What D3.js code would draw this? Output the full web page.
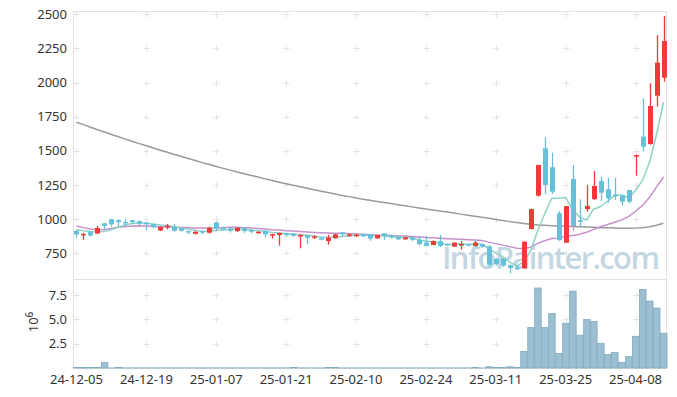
<!DOCTYPE html>
<html>
<head>
<meta charset="utf-8">
<script src="https://cdn.jsdelivr.net/npm/d3@7"></script>
<style>
  body { margin: 0; background: #fff; }
  text { font-family: "Noto Sans", sans-serif; }
</style>
</head>
<body>
<div id="chart"></div>
<script>
// trading days
var dates = [
  "24-12-05","24-12-06","24-12-09","24-12-10","24-12-11","24-12-12","24-12-13","24-12-16","24-12-17","24-12-18",
  "24-12-19","24-12-20","24-12-23","24-12-24","24-12-26","24-12-27","24-12-30","25-01-02","25-01-03","25-01-06",
  "25-01-07","25-01-08","25-01-09","25-01-10","25-01-13","25-01-14","25-01-15","25-01-16","25-01-17","25-01-20",
  "25-01-21","25-01-22","25-01-23","25-01-24","25-01-31","25-02-03","25-02-04","25-02-05","25-02-06","25-02-07",
  "25-02-10","25-02-11","25-02-12","25-02-13","25-02-14","25-02-17","25-02-18","25-02-19","25-02-20","25-02-21",
  "25-02-24","25-02-25","25-02-26","25-02-27","25-02-28","25-03-04","25-03-05","25-03-06","25-03-07","25-03-10",
  "25-03-11","25-03-12","25-03-13","25-03-14","25-03-17","25-03-18","25-03-19","25-03-20","25-03-21","25-03-24",
  "25-03-25","25-03-26","25-03-27","25-03-28","25-03-31","25-04-01","25-04-02","25-04-03","25-04-04","25-04-07",
  "25-04-08","25-04-09","25-04-10","25-04-11","25-04-14"
];

var opens = [
  915, 886, 908, 895, 970, 1000, 993, 980, 993, 985,
  974, 964, 917, 940, 945, 933, 913, 893, 913, 901,
  977, 940, 933, 913, 937, 920, 901, 915, 884, 884,
  899, 896, 880, 884, 867, 864, 840, 860, 904, 884,
  880, 889, 891, 860, 896, 884, 872, 852, 867, 848,
  828, 811, 840, 818, 799, 811, 818, 804, 818, 800,
  710, 712, 664, 645, 640, 928, 1172, 1519, 1380, 1043,
  828, 1294, 994, 1074, 1147, 1279, 1218, 1180, 1172, 1213,
  1458, 1604, 1550, 1904, 2036
];
var highs = [
  920, 900, 910, 950, 972, 1002, 1000, 999, 995, 990,
  978, 966, 945, 966, 966, 935, 915, 912, 915, 945,
  981, 946, 935, 937, 939, 922, 910, 917, 893, 901,
  901, 898, 889, 886, 881, 866, 884, 891, 906, 893,
  896, 891, 893, 886, 899, 886, 874, 872, 869, 877,
  879, 845, 884, 822, 832, 840, 822, 840, 822, 811,
  715, 716, 669, 660, 838, 1078, 1397, 1600, 1487, 1060,
  1096, 1397, 1145, 1250, 1353, 1311, 1303, 1303, 1175, 1215,
  1472, 1885, 1995, 2348, 2487
];
var lows = [
  864, 847, 872, 890, 920, 945, 945, 945, 964, 955,
  920, 935, 912, 925, 908, 910, 890, 888, 890, 895,
  913, 920, 903, 905, 899, 896, 893, 864, 859, 806,
  870, 870, 787, 816, 855, 845, 813, 858, 874, 870,
  870, 870, 842, 855, 848, 860, 848, 850, 840, 808,
  799, 808, 795, 805, 796, 777, 800, 799, 790, 650,
  660, 652, 604, 628, 636, 925, 1165, 1184, 1184, 840,
  826, 915, 945, 1055, 1140, 1133, 1120, 1140, 1100, 1115,
  1318, 1494, 1545, 1823, 2007
];
var closes = [
  888, 892, 880, 935, 950, 962, 978, 975, 978, 968,
  962, 940, 943, 952, 915, 915, 904, 908, 901, 937,
  933, 926, 915, 937, 913, 908, 908, 889, 891, 899,
  884, 879, 884, 864, 874, 850, 864, 889, 889, 889,
  886, 874, 857, 884, 877, 867, 852, 867, 848, 818,
  804, 840, 804, 809, 828, 818, 809, 828, 799, 665,
  670, 660, 642, 638, 835, 1074, 1397, 1250, 1201, 847,
  1096, 950, 981, 1096, 1243, 1194, 1153, 1170, 1128, 1128,
  1470, 1530, 1828, 2146, 2304
];

// moving averages (5, 20, 120 day)
var ma5 = [
  922, 915, 910, 908, 909, 924, 941, 960, 969, 972,
  972, 965, 958, 953, 942, 933, 926, 919, 909, 913,
  917, 921, 922, 930, 925, 920, 916, 911, 902, 899,
  894, 888, 887, 882, 877, 870, 867, 868, 873, 876,
  883, 885, 879, 878, 876, 872, 867, 869, 862, 850,
  838, 835, 823, 815, 817, 820, 814, 818, 816, 784,
  754, 724, 687, 655, 689, 770, 917, 1039, 1151, 1154,
  1158, 1069, 1015, 994, 1073, 1093, 1133, 1171, 1178, 1155,
  1210, 1285, 1417, 1620, 1856
];
var ma20 = [
  950, 938, 928, 922, 925, 932, 940, 946, 950, 951,
  950, 948, 945, 943, 941, 939, 937, 936, 935, 934,
  936, 938, 940, 940, 938, 935, 932, 928, 923, 920,
  916, 913, 910, 906, 903, 900, 898, 897, 897, 894,
  892, 889, 886, 884, 882, 880, 877, 876, 874, 870,
  866, 864, 860, 857, 855, 853, 850, 847, 843, 832,
  821, 810, 799, 787, 785, 795, 823, 842, 859, 861,
  876, 881, 890, 904, 925, 944, 961, 978, 995, 1018,
  1058, 1101, 1160, 1236, 1309
];
var ma120 = [
  1710, 1692, 1673, 1655, 1638, 1620, 1603, 1586, 1569, 1553,
  1537, 1521, 1505, 1490, 1474, 1459, 1444, 1429, 1414, 1400,
  1386, 1372, 1359, 1346, 1333, 1320, 1308, 1295, 1283, 1271,
  1259, 1248, 1237, 1226, 1215, 1205, 1195, 1184, 1174, 1165,
  1155, 1146, 1138, 1130, 1122, 1114, 1106, 1098, 1090, 1082,
  1075, 1067, 1060, 1052, 1045, 1037, 1029, 1021, 1014, 1006,
  998, 990, 982, 975, 968, 962, 958, 955, 952, 950,
  948, 946, 944, 942, 940, 938, 937, 935, 934, 934,
  935, 938, 945, 955, 970
];

// volume, millions of shares
var volume = [
  0.05, 0.05, 0.05, 0.05, 0.55, 0.01, 0.05, 0.01, 0.01, 0.01,
  0.01, 0.01, 0.01, 0.01, 0.01, 0.01, 0.01, 0.01, 0.01, 0.01,
  0.01, 0.01, 0.01, 0.01, 0.01, 0.01, 0.01, 0.01, 0.01, 0.01,
  0.01, 0.05, 0.01, 0.01, 0.01, 0.01, 0.05, 0.05, 0.01, 0.01,
  0.01, 0.01, 0.01, 0.01, 0.01, 0.01, 0.01, 0.01, 0.01, 0.01,
  0.01, 0.01, 0.01, 0.01, 0.01, 0.01, 0.01, 0.05, 0.01, 0.12,
  0.05, 0.05, 0.12, 0.05, 1.71, 4.15, 8.22, 4.15, 5.6, 1.5,
  4.6, 7.9, 3.37, 4.98, 4.78, 2.54, 1.4, 1.6, 0.58, 1.16,
  3.26, 8.08, 6.88, 6.16, 3.57
];

var priceTicks = [750, 1000, 1250, 1500, 1750, 2000, 2250, 2500];
var volTicks = [2.5, 5.0, 7.5];
var labelEvery = 10;

var width = 677, height = 397;
var plotLeft = 73, plotRight = 667, plotTop = 11, split = 279, plotBottom = 368;

var svg = d3.select("#chart").append("svg")
    .attr("width", width)
    .attr("height", height);

var x = d3.scaleBand()
    .domain(d3.range(dates.length))
    .range([plotLeft, plotRight])
    .padding(0);

var y = d3.scaleLinear()
    .domain([562, 2524])
    .range([split, plotTop]);

var yv = d3.scaleLinear()
    .domain([0, 9.15])
    .range([plotBottom, split]);

function cx(i) { return x(i) + x.bandwidth() / 2; }

var tickIdx = d3.range(0, dates.length, labelEvery);

// panel frames
var frame = svg.append("g")
    .attr("stroke", "#e2e2e2")
    .attr("fill", "none");
frame.append("rect")
    .attr("x", plotLeft + 0.5).attr("y", plotTop + 0.5)
    .attr("width", plotRight - plotLeft - 1).attr("height", split - plotTop);
frame.append("rect")
    .attr("x", plotLeft + 0.5).attr("y", split + 0.5)
    .attr("width", plotRight - plotLeft - 1).attr("height", plotBottom - split);

// little cross marks at grid intersections
var crosses = svg.append("g").attr("stroke", "#e4e4e4").attr("stroke-width", 1);
function cross(px, py) {
    crosses.append("line").attr("x1", px - 3).attr("x2", px + 3).attr("y1", py).attr("y2", py);
    crosses.append("line").attr("x1", px).attr("x2", px).attr("y1", py - 3).attr("y2", py + 3);
}
tickIdx.forEach(function (i) {
    priceTicks.forEach(function (p) { cross(Math.round(cx(i)) + 0.5, Math.round(y(p)) + 0.5); });
    volTicks.forEach(function (v) { cross(Math.round(cx(i)) + 0.5, Math.round(yv(v)) + 0.5); });
});

// watermark
svg.append("text")
    .attr("x", 442)
    .attr("y", 269)
    .attr("textLength", 218)
    .style("font-family", "'Open Sans', sans-serif")
    .style("font-size", "31px")
    .style("font-weight", "600")
    .attr("fill", "#c3d7e3")
    .text("InfoPainter.com");

// moving average lines
var lines = [
    {values: ma120, color: "#9a9a9a"},
    {values: ma20, color: "#c98fc9"},
    {values: ma5, color: "#8fd3c6"}
];
lines.forEach(function (l) {
    var line = d3.line()
        .x(function (d, i) { return cx(i); })
        .y(function (d) { return y(d); });
    svg.append("path")
        .datum(l.values)
        .attr("fill", "none")
        .attr("stroke", l.color)
        .attr("stroke-width", 1.5)
        .attr("d", line);
});

// candles
var upColor = "#ef3a3a", downColor = "#67c0d9";
var candles = svg.append("g");
dates.forEach(function (d, i) {
    var c = closes[i] >= opens[i] ? upColor : downColor;
    var px = Math.round(cx(i)) + 0.5;
    candles.append("line")
        .attr("x1", px).attr("x2", px)
        .attr("y1", y(highs[i])).attr("y2", y(lows[i]))
        .attr("stroke", c)
        .attr("stroke-width", 1.3);
    var bodyTop = y(Math.max(opens[i], closes[i]));
    var h = Math.max(1.5, y(Math.min(opens[i], closes[i])) - bodyTop);
    candles.append("rect")
        .attr("x", px - 2.5)
        .attr("y", bodyTop)
        .attr("width", 5)
        .attr("height", h)
        .attr("fill", c);
});

// volume bars
svg.append("g").selectAll("rect")
    .data(volume)
    .enter().append("rect")
    .attr("x", function (d, i) { return x(i) + 0.5; })
    .attr("y", function (d) { return yv(d); })
    .attr("width", x.bandwidth() - 0.5)
    .attr("height", function (d) { return plotBottom - yv(d); })
    .attr("fill", "#9cc0d1")
    .attr("stroke", "#80aabd")
    .attr("stroke-width", 0.8);

// axis labels
var txt = svg.append("g")
    .style("font-size", "13px")
    .attr("fill", "#333");
priceTicks.forEach(function (p) {
    txt.append("text")
        .attr("x", 67)
        .attr("y", y(p))
        .attr("dy", "0.35em")
        .attr("text-anchor", "end")
        .text(p);
});
volTicks.forEach(function (v) {
    txt.append("text")
        .attr("x", 67)
        .attr("y", yv(v))
        .attr("dy", "0.35em")
        .attr("text-anchor", "end")
        .text(v.toFixed(1));
});
tickIdx.forEach(function (i) {
    txt.append("text")
        .attr("x", cx(i))
        .attr("y", 384)
        .attr("text-anchor", "middle")
        .text(dates[i]);
});

var exp = txt.append("text")
    .attr("transform", "translate(38,322) rotate(-90)")
    .attr("text-anchor", "middle");
exp.append("tspan").text("10");
exp.append("tspan").attr("dy", "-0.5em").style("font-size", "10px").text("6");
</script>
</body>
</html>
